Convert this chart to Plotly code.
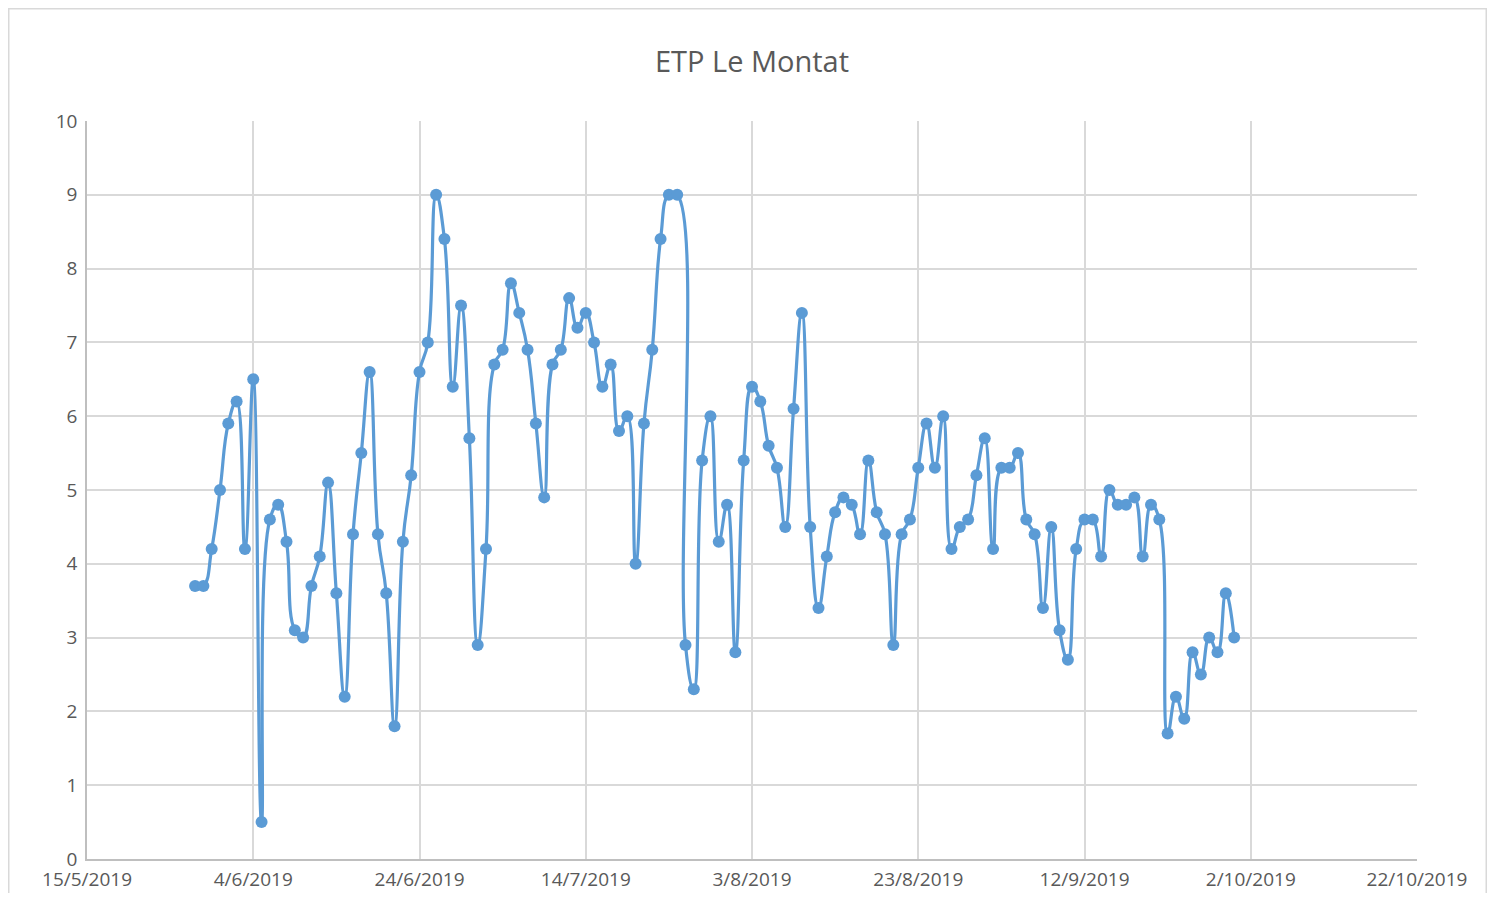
import pandas as pd
import plotly.graph_objects as go

start_date = "2019-05-28"
etp_may = [3.7, 3.7, 4.2, 5.0]
etp_jun = [5.9, 6.2, 4.2, 6.5, 0.5, 4.6, 4.8, 4.3, 3.1, 3.0, 3.7, 4.1, 5.1, 3.6, 2.2,
           4.4, 5.5, 6.6, 4.4, 3.6, 1.8, 4.3, 5.2, 6.6, 7.0, 9.0, 8.4, 6.4, 7.5, 5.7]
etp_jul = [2.9, 4.2, 6.7, 6.9, 7.8, 7.4, 6.9, 5.9, 4.9, 6.7, 6.9, 7.6, 7.2, 7.4, 7.0,
           6.4, 6.7, 5.8, 6.0, 4.0, 5.9, 6.9, 8.4, 9.0, 9.0, 2.9, 2.3, 5.4, 6.0, 4.3, 4.8]
etp_aug = [2.8, 5.4, 6.4, 6.2, 5.6, 5.3, 4.5, 6.1, 7.4, 4.5, 3.4, 4.1, 4.7, 4.9, 4.8,
           4.4, 5.4, 4.7, 4.4, 2.9, 4.4, 4.6, 5.3, 5.9, 5.3, 6.0, 4.2, 4.5, 4.6, 5.2, 5.7]
etp_sep = [4.2, 5.3, 5.3, 5.5, 4.6, 4.4, 3.4, 4.5, 3.1, 2.7, 4.2, 4.6, 4.6, 4.1, 5.0,
           4.8, 4.8, 4.9, 4.1, 4.8, 4.6, 1.7, 2.2, 1.9, 2.8, 2.5, 3.0, 2.8, 3.6, 3.0]

values = etp_may + etp_jun + etp_jul + etp_aug + etp_sep
dates = pd.date_range(start_date, periods=len(values), freq="D")

tick_dates = pd.date_range("2019-05-15", "2019-10-22", freq="20D")
tick_labels = [f"{d.day}/{d.month}/{d.year}" for d in tick_dates]

color = "#5B9BD5"
grid = "#D9D9D9"
txt = "#595959"
font_family = "Open Sans, Liberation Sans, sans-serif"

# page body has an 8px margin on every side; figure fits inside 1495x901
W, H = 1479, 885
PL, PR, PT, PB = 79, 1409, 113, 851  # plot area in figure pixels

fig = go.Figure()
fig.add_trace(go.Scatter(
    x=dates, y=values, mode="lines+markers",
    line=dict(color=color, width=3.2, shape="spline", smoothing=1.3),
    marker=dict(color=color, size=12),
    showlegend=False, hoverinfo="x+y",
))

fig.update_layout(
    width=W, height=H,
    margin=dict(l=PL, r=W - PR, t=PT, b=H - PB, pad=0, autoexpand=False),
    paper_bgcolor="white", plot_bgcolor="white",
    title=dict(text="ETP Le Montat", x=(PL + PR) / 2 / W, xanchor="center", y=1 - 54 / H, yanchor="middle",
               font=dict(family=font_family, size=29, color=txt)),
    font=dict(family=font_family, color=txt, size=19),
    xaxis=dict(
        type="date", range=[tick_dates[0], tick_dates[-1]],
        tickmode="array", tickvals=tick_dates, ticktext=tick_labels,
        showgrid=True, gridcolor=grid, gridwidth=1.5,
        showline=True, linecolor="#BFBFBF", linewidth=1.5,
        ticks="outside", ticklen=2, tickcolor="rgba(0,0,0,0)",
        tickfont=dict(size=19, color=txt), zeroline=False, automargin=False,
    ),
    yaxis=dict(
        range=[0, 10], dtick=1, tick0=0,
        showgrid=True, gridcolor=grid, gridwidth=1.5,
        showline=True, linecolor="#BFBFBF", linewidth=1.5,
        ticks="outside", ticklen=4, tickcolor="rgba(0,0,0,0)",
        tickfont=dict(size=19, color=txt), zeroline=False, automargin=False,
    ),
    shapes=[dict(type="rect", xref="paper", yref="paper",
                 x0=(0.75 - PL) / (PR - PL), x1=(W - 0.75 - PL) / (PR - PL),
                 y0=(PB - (H + 6)) / (PB - PT), y1=(PB - 0.75) / (PB - PT),
                 line=dict(color="#D9D9D9", width=1.5), fillcolor="rgba(0,0,0,0)", layer="below")],
)

fig.write_html("out.html")
